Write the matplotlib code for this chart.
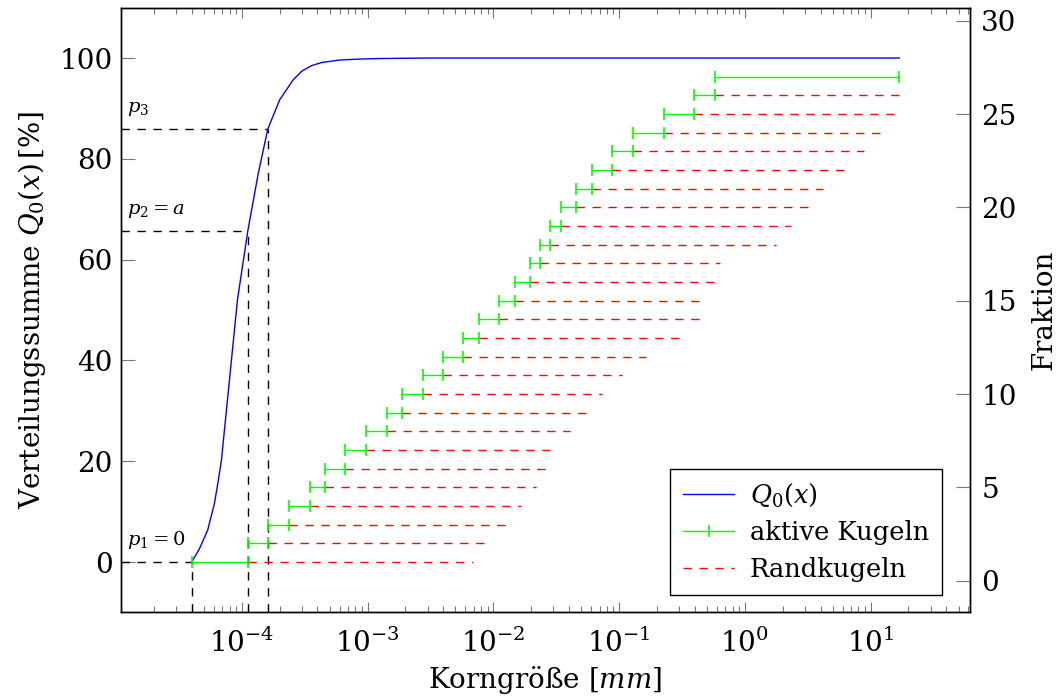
import numpy as np
import matplotlib
matplotlib.use("Agg")
import matplotlib.pyplot as plt
import matplotlib.ticker as mticker
from matplotlib.lines import Line2D
from matplotlib.transforms import blended_transform_factory

plt.rcParams["font.family"] = ["DejaVu Serif"]
plt.rcParams["mathtext.fontset"] = "dejavuserif"

# Fraction boundaries [mm]: fraction i spans bounds[i] .. bounds[i+1]
bounds = [4.0e-5, 1.117e-4, 1.61e-4, 2.39e-4, 3.46e-4, 4.60e-4, 6.67e-4,
          9.73e-4, 1.42e-3, 1.87e-3, 2.74e-3, 4.00e-3, 5.77e-3, 7.69e-3,
          1.117e-2, 1.49e-2, 1.96e-2, 2.37e-2, 2.84e-2, 3.44e-2, 4.58e-2,
          6.04e-2, 8.83e-2, 0.129, 0.226, 0.397, 0.577, 16.9]
# end of the boundary-sphere range for each fraction (last one has none)
rand_end = [6.93e-3, 8.59e-3, 1.24e-2, 1.66e-2, 2.18e-2, 2.58e-2, 2.83e-2,
            4.08e-2, 5.45e-2, 7.31e-2, 0.106, 0.165, 0.298, 0.434, 0.495,
            0.566, 0.64, 1.77, 2.34, 3.18, 4.21, 6.15, 8.87, 11.8, 15.7, 16.9]
fraction = list(range(1, 28))

# cumulative distribution Q0(x)
q0_x = [4.0e-5, 4.6e-5, 5.36e-5, 6.06e-5, 6.52e-5, 6.89e-5, 7.98e-5,
        9.24e-5, 1.117e-4, 1.35e-4, 1.61e-4, 2.0e-4, 2.55e-4, 3.0e-4,
        3.6e-4, 4.3e-4, 6.01e-4, 8.67e-4, 1.25e-3, 3.0e-3, 16.9]
q0_y = [0, 2.6, 6.35, 11.6, 16.3, 20.2, 36.1, 52.0, 65.7, 77.0, 85.9,
        91.7, 95.6, 97.4, 98.5, 99.1, 99.6, 99.8, 99.9, 100, 100]

# characteristic points
p_x = [4.0e-5, 1.117e-4, 1.61e-4]
p_q = [0, 65.7, 85.9]
p_lbl = [r"$p_1 = 0$", r"$p_2 = a$", r"$p_3$"]

BLUE, GREEN, RED = "#0000ff", "#00ff00", "#ff0000"
DASH = (0, (6, 5.5))
FS = 20

fig = plt.figure(figsize=(10.62, 7.0), dpi=100)
ax = fig.add_axes([0.1139, 0.1251, 0.7995, 0.864])
ax2 = ax.twinx()

# limits with 10 % enlargement like pgfplots
lx0, lx1 = np.log10(bounds[0]), np.log10(bounds[-1])
d = 0.1 * (lx1 - lx0)
ax.set_xscale("log")
ax.set_xlim(10 ** (lx0 - d), 10 ** (lx1 + d))
ax.set_ylim(-10, 110)
ax2.set_ylim(fraction[0] - 0.1 * (28 - 1), 28 + 0.1 * (28 - 1))

ax.plot(q0_x, q0_y, color=BLUE, lw=1.0, zorder=3)

tr = blended_transform_factory(ax.transAxes, ax.transData)
for px, pq, lbl in zip(p_x, p_q, p_lbl):
    ax.plot([ax.get_xlim()[0], px], [pq, pq], color="black", lw=1.0, ls=DASH)
    ax.plot([px, px], [-10, pq], color="black", lw=1.0, ls=DASH)
    ax.text(0.007, pq + 2.2, lbl, transform=tr, fontsize=14, ha="left",
            va="bottom")

for i, f in enumerate(fraction):
    ax2.plot([bounds[i], bounds[i + 1]], [f, f], color=GREEN, lw=1.0,
             marker="|", ms=9, mew=1.2, zorder=4)
    if i < len(rand_end):
        ax2.plot([bounds[i + 1], rand_end[i]], [f, f], color=RED, lw=1.0,
                 ls=DASH, zorder=3)

ax.set_yticks([0, 20, 40, 60, 80, 100])
ax2.set_yticks([0, 5, 10, 15, 20, 25, 30])
ax.set_xticks([1e-4, 1e-3, 1e-2, 1e-1, 1e0, 1e1])
ax.xaxis.set_minor_locator(mticker.LogLocator(base=10, subs=np.arange(2, 10),
                                              numticks=20))
ax.xaxis.set_minor_formatter(mticker.NullFormatter())

tick_col = "#777777"
ax.tick_params(axis="x", which="major", direction="in", top=True, length=7,
               width=0.8, color=tick_col, labelsize=FS, pad=12)
ax.tick_params(axis="x", which="minor", direction="in", top=True, length=4,
               width=0.8, color=tick_col)
ax.tick_params(axis="y", direction="in", length=10, width=0.8,
               color=tick_col, labelsize=FS, pad=6)
ax2.tick_params(axis="y", direction="in", length=10, width=0.8,
                color=tick_col, labelsize=FS, pad=8)

ax.set_xlabel(r"Korngröße $[mm]$", fontsize=FS, labelpad=4)
ax.set_ylabel(r"Verteilungssumme $Q_0(x)\,[\%]$", fontsize=FS, labelpad=8)
ax2.set_ylabel("Fraktion", fontsize=FS, labelpad=10)

for a in (ax, ax2):
    for s in a.spines.values():
        s.set_linewidth(1.0)

handles = [
    Line2D([], [], color=BLUE, lw=1.0),
    Line2D([], [], color=GREEN, lw=1.0, marker="|", ms=9, mew=1.2),
    Line2D([], [], color=RED, lw=1.0, ls=DASH),
]
leg = ax2.legend(handles, [r"$Q_0(x)$", "aktive Kugeln", "Randkugeln"],
                 loc="lower right", bbox_to_anchor=(0.967, 0.029),
                 borderaxespad=0, fontsize=18.5, numpoints=1,
                 handlelength=2.0, handletextpad=0.6, labelspacing=0.45,
                 borderpad=0.5, fancybox=False, framealpha=1,
                 edgecolor="black")
leg.get_frame().set_linewidth(1.0)

fig.savefig("out.png", dpi=100)
